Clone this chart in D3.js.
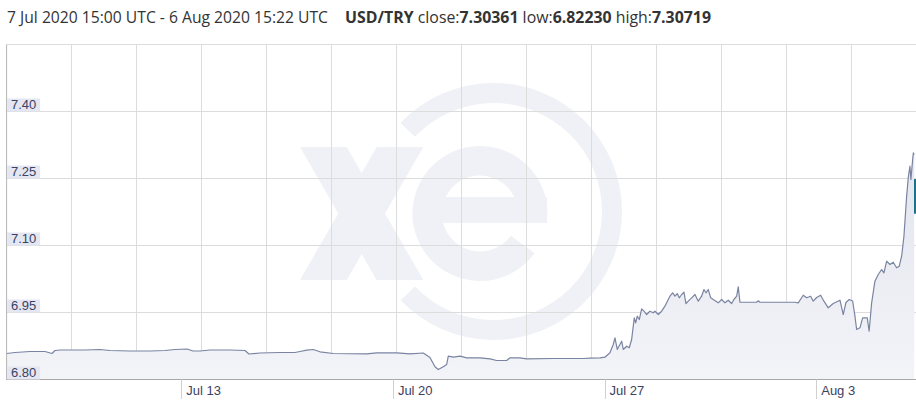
<!DOCTYPE html>
<html><head><meta charset="utf-8">
<script src="https://cdn.jsdelivr.net/npm/d3@7"></script>
<style>body{margin:0;background:#fff}svg{display:block}</style>
</head><body><svg id="c" width="916" height="409"></svg>
<script>
// ---- data ----
const startISO = "2020-07-07T15:00:00Z";
const endISO = "2020-08-06T15:22:00Z";
// days since 7 Jul 2020 15:00 UTC
const dayOffsets = [0.000,0.278,0.774,1.270,1.501,1.601,1.766,2.593,3.089,3.419,4.081,4.742,5.238,5.569,5.966,6.164,6.396,6.726,7.388,7.884,8.016,8.380,9.041,9.537,9.702,9.924,10.142,10.364,10.804,11.908,12.239,12.900,13.340,13.780,14.001,14.167,14.276,14.441,14.554,14.607,14.772,14.993,15.215,15.655,15.986,16.207,16.538,16.647,16.978,17.199,18.079,19.071,19.292,19.623,19.788,19.954,20.063,20.119,20.195,20.341,20.394,20.506,20.592,20.671,20.757,20.804,20.857,20.923,21.002,21.078,21.167,21.276,21.385,21.442,21.551,21.663,21.772,21.882,21.938,22.027,22.103,22.179,22.245,22.325,22.401,22.467,22.543,22.656,22.765,22.874,22.986,23.062,23.128,23.204,23.284,23.370,23.535,23.648,23.757,23.866,23.978,24.054,24.144,24.197,24.253,24.805,24.858,24.914,26.071,26.181,26.346,26.458,26.591,26.677,26.789,26.921,27.030,27.173,27.338,27.560,27.669,27.758,27.867,27.980,28.056,28.112,28.221,28.310,28.462,28.525,28.608,28.717,28.826,28.939,29.015,29.104,29.213,29.322,29.434,29.521,29.600,29.676,29.765,29.824,29.874,29.907,29.964,29.987,30.015];
const rates = [6.8582,6.8604,6.8627,6.8627,6.8582,6.8649,6.8660,6.8660,6.8672,6.8649,6.8638,6.8638,6.8649,6.8672,6.8683,6.8638,6.8638,6.8660,6.8660,6.8649,6.8571,6.8593,6.8604,6.8604,6.8627,6.8656,6.8672,6.8620,6.8582,6.8575,6.8598,6.8598,6.8575,6.8593,6.8493,6.8284,6.8223,6.8284,6.8336,6.8522,6.8499,6.8522,6.8486,6.8486,6.8463,6.8425,6.8425,6.8486,6.8486,6.8463,6.8470,6.8470,6.8477,6.8486,6.8499,6.8598,6.8784,6.8934,6.8672,6.8857,6.8672,6.8745,6.8710,6.8895,6.9381,6.9269,6.9417,6.9343,6.9583,6.9529,6.9455,6.9529,6.9493,6.9529,6.9455,6.9529,6.9641,6.9791,6.9865,6.9941,6.9865,6.9925,6.9829,6.9903,6.9954,6.9701,6.9753,6.9829,6.9903,6.9753,6.9865,7.0015,6.9941,7.0015,6.9829,6.9791,6.9717,6.9791,6.9717,6.9775,6.9701,6.9791,6.9865,7.0075,6.9730,6.9730,6.9762,6.9730,6.9730,6.9717,6.9887,6.9829,6.9865,6.9753,6.9836,6.9887,6.9753,6.9605,6.9701,6.9775,6.9455,6.9724,6.9791,6.9757,6.9417,6.9119,6.9157,6.9381,6.9381,6.9081,6.9717,7.0201,7.0351,7.0462,7.0389,7.0648,7.0574,7.0626,7.0501,7.0536,7.0760,7.1208,7.2103,7.2551,7.2775,7.2477,7.2925,7.3072,7.3036];
const xTickDates = ["2020-07-13T10:00:00Z","2020-07-20T10:00:00Z","2020-07-27T10:00:00Z","2020-08-03T10:00:00Z"];
const xTickLabels = ["Jul 13","Jul 20","Jul 27","Aug 3"];
const yTicks = [6.80, 6.95, 7.10, 7.25, 7.40];
const yTickLabels = ["6.80","6.95","7.10","7.25","7.40"];
const rangeText = "7 Jul 2020 15:00 UTC - 6 Aug 2020 15:22 UTC";
const pairName = "USD/TRY";
const statNames = ["close:","low:","high:"];
const statValues = ["7.30361","6.82230","7.30719"];

// ---- chart ----
const svg = d3.select("#c");
const L = 6.6, R = 914.2, T = 44.5, B = 379.5;
const start = new Date(startISO), end = new Date(endISO);
const x = d3.scaleUtc().domain([start, end]).range([L, R]);
const y = d3.scaleLinear().domain([6.80, 7.55]).range([B, T]);
const data = dayOffsets.map((d, i) => ({date: new Date(start.getTime() + d * 864e5), v: rates[i]}));

const defs = svg.append("defs");
const grad = defs.append("linearGradient").attr("id", "fillg")
  .attr("gradientUnits", "userSpaceOnUse").attr("x1", 0).attr("x2", 0).attr("y1", 150).attr("y2", B);
grad.append("stop").attr("offset", 0).attr("stop-color", "#e2e5ee");
grad.append("stop").attr("offset", 1).attr("stop-color", "#f3f4f8");

// watermark
const wm = svg.append("g").attr("fill", "#f0f1f6");
const ring = d3.arc().innerRadius(108.5).outerRadius(128.5).startAngle(-0.81).endAngle(3.95);
wm.append("path").attr("transform", "translate(493.5,211.5)").attr("d", ring());
const eArc = d3.arc().innerRadius(38).outerRadius(67.5).startAngle(2.2).endAngle(Math.PI * 2 + Math.PI / 2);
wm.append("path").attr("transform", "translate(480,213.5)").attr("d", eArc());
wm.append("rect").attr("x", 440).attr("y", 197).attr("width", 107).attr("height", 26);
wm.append("polygon").attr("points", "300,147 346.7,147 423.3,280 376.7,280");
wm.append("polygon").attr("points", "376.7,147 423.3,147 346.7,280 300,280");

// grid
const gx = d3.scaleLinear().domain([0, 14]).range([L, L + 910]);
svg.append("g").selectAll("line").data(d3.range(1, 14)).join("line")
  .attr("x1", d => Math.floor(gx(d)) + 0.5).attr("x2", d => Math.floor(gx(d)) + 0.5)
  .attr("y1", T).attr("y2", B).attr("stroke", "#dcdcdc").attr("stroke-width", 1);
svg.append("g").selectAll("line").data(yTicks.slice(1).concat([7.55])).join("line")
  .attr("x1", L).attr("x2", 916).attr("y1", d => y(d)).attr("y2", d => y(d))
  .attr("stroke", "#dcdcdc").attr("stroke-width", 1);

// area + line
const area = d3.area().x(d => x(d.date)).y0(B).y1(d => y(d.v));
svg.append("path").datum(data).attr("d", area).attr("fill", "url(#fillg)");
const line = d3.line().x(d => x(d.date)).y(d => y(d.v));
svg.append("path").datum(data).attr("d", line).attr("fill", "none")
  .attr("stroke", "#7a84a2").attr("stroke-width", 1.2).attr("stroke-linejoin", "round");

// axes lines
svg.append("line").attr("x1", L).attr("x2", L).attr("y1", T).attr("y2", B + 0.5).attr("stroke", "#b4b4b4");
svg.append("line").attr("x1", L).attr("x2", 916).attr("y1", B).attr("y2", B).attr("stroke", "#a8a8a8");

// y labels
const yl = svg.append("g").selectAll("g").data(yTicks).join("g");
yl.append("rect").attr("x", L + 0.5).attr("y", d => y(d) - 13).attr("width", 33).attr("height", 13).attr("fill", "#e4e6f2");
yl.append("text").attr("x", 11).attr("y", d => y(d) - 2.5).text((d, i) => yTickLabels[i])
  .attr("font-family", "Liberation Sans, Arial, sans-serif").attr("font-size", 13).attr("fill", "#3b4262");

// x ticks
const xt = svg.append("g").selectAll("g").data(xTickDates).join("g");
xt.append("line").attr("x1", d => Math.floor(x(new Date(d))) + 0.5).attr("x2", d => Math.floor(x(new Date(d))) + 0.5)
  .attr("y1", B).attr("y2", 399).attr("stroke", "#d0d0d0");
xt.append("text").attr("x", d => x(new Date(d)) + 4.5).attr("y", 394.5).text((d, i) => xTickLabels[i])
  .attr("font-family", "Liberation Sans, Arial, sans-serif").attr("font-size", 13).attr("fill", "#3b4262");

// current value marker
svg.append("rect").attr("x", 914).attr("y", y(7.2477) - 0.5).attr("width", 2).attr("height", y(7.17) - y(7.2477)).attr("fill", "#1f7189");

// title
const tf = "Open Sans, sans-serif";
svg.append("text").attr("x", 7).attr("y", 22.5).attr("font-family", tf).attr("font-size", 15.6).attr("fill", "#333")
  .attr("textLength", 321).attr("lengthAdjust", "spacingAndGlyphs").text(rangeText);
const t2 = svg.append("text").attr("x", 345).attr("y", 22.5).attr("font-family", tf).attr("font-size", 15.6).attr("fill", "#333")
  .attr("textLength", 366).attr("lengthAdjust", "spacingAndGlyphs");
t2.append("tspan").attr("font-weight", "bold").text(pairName);
statNames.forEach((n, i) => {
  t2.append("tspan").text(" " + n);
  t2.append("tspan").attr("font-weight", "bold").text(statValues[i]);
});
</script></body></html>
